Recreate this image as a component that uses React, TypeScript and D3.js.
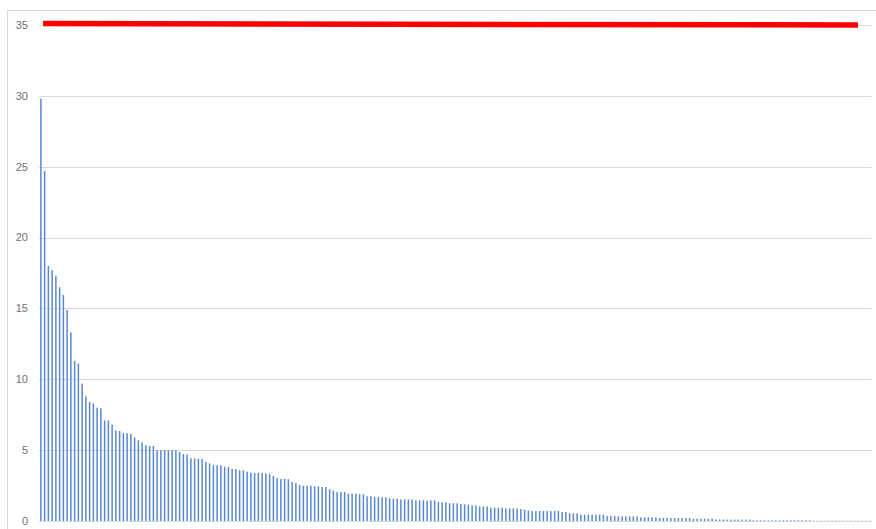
import React from "react";
import * as d3 from "d3";

// Values per item, sorted from largest to smallest
const values: number[] = [
  29.8, 24.7, 18.0, 17.7, 17.3, 16.5, 15.95, 14.9, 13.3, 11.3,
  11.1, 9.7, 8.8, 8.4, 8.3, 8.0, 7.95, 7.1, 7.1, 6.8,
  6.4, 6.35, 6.2, 6.2, 6.15, 5.9, 5.7, 5.55, 5.35, 5.3,
  5.3, 5.0, 5.0, 5.0, 5.0, 5.0, 5.0, 4.87, 4.73, 4.7,
  4.42, 4.42, 4.38, 4.38, 4.16, 4.07, 3.95, 3.93, 3.93, 3.83,
  3.8, 3.67, 3.67, 3.58, 3.58, 3.48, 3.41, 3.4, 3.4, 3.38,
  3.36, 3.33, 3.18, 3.03, 2.96, 2.96, 2.95, 2.75, 2.68, 2.54,
  2.49, 2.49, 2.49, 2.45, 2.45, 2.4, 2.4, 2.24, 2.14, 2.05,
  2.05, 2.05, 1.93, 1.93, 1.93, 1.9, 1.88, 1.74, 1.74, 1.7,
  1.7, 1.67, 1.67, 1.6, 1.58, 1.58, 1.53, 1.53, 1.53, 1.53,
  1.46, 1.46, 1.46, 1.43, 1.45, 1.45, 1.34, 1.32, 1.32, 1.25,
  1.25, 1.25, 1.2, 1.18, 1.16, 1.1, 1.1, 1.03, 1.03, 1.03,
  0.94, 0.94, 0.94, 0.94, 0.89, 0.89, 0.89, 0.89, 0.85, 0.8,
  0.75, 0.7, 0.7, 0.7, 0.7, 0.7, 0.7, 0.7, 0.7, 0.63,
  0.63, 0.54, 0.54, 0.54, 0.45, 0.45, 0.45, 0.45, 0.45, 0.45,
  0.45, 0.35, 0.35, 0.35, 0.32, 0.32, 0.32, 0.32, 0.32, 0.32,
  0.26, 0.26, 0.26, 0.26, 0.26, 0.21, 0.21, 0.21, 0.21, 0.21,
  0.21, 0.21, 0.21, 0.21, 0.16, 0.16, 0.16, 0.16, 0.16, 0.16,
  0.1, 0.1, 0.1, 0.1, 0.1, 0.1, 0.1, 0.1, 0.1, 0.1,
  0.05, 0.05, 0.05, 0.05, 0.05, 0.05, 0.05, 0.05, 0.05, 0.05,
  0.05, 0.05, 0.05, 0.05, 0.05, 0.05, 0.02, 0.02, 0.02, 0.02,
  0.02, 0.02, 0.02, 0.02, 0.02, 0.02, 0.02, 0.02, 0.02, 0.02,
  0.02, 0.02,
];

const categories: string[] = values.map((_, i) => String(i + 1));

const yTicks: number[] = [0, 5, 10, 15, 20, 25, 30, 35];

// Reference line: position in category units and its value
const targetLine: { pos: number; value: number }[] = [
  { pos: 1.1, value: 35.1 },
  { pos: 218.4, value: 35.0 },
];

const WIDTH = 876;
const HEIGHT = 529;
const plot = { left: 39, right: 871.5, top: 25, bottom: 521 };

export default function App() {
  const x = d3
    .scaleBand<string>()
    .domain(categories)
    .range([plot.left, plot.right])
    .paddingInner(0.6)
    .paddingOuter(0.3);

  const xPos = d3
    .scaleLinear()
    .domain([0, categories.length])
    .range([plot.left, plot.right]);

  const y = d3.scaleLinear().domain([0, 35]).range([plot.bottom, plot.top]);

  const line = d3
    .line<{ pos: number; value: number }>()
    .x((d) => xPos(d.pos))
    .y((d) => y(d.value));

  return (
    <svg
      width={WIDTH}
      height={HEIGHT}
      style={{ position: "absolute", left: 0, top: 0, background: "#fff" }}
    >
      <rect x={0} y={0} width={WIDTH} height={HEIGHT} fill="#fff" />
      {/* chart frame */}
      <rect
        x={7.5}
        y={10.5}
        width={WIDTH + 20}
        height={HEIGHT + 20}
        fill="none"
        stroke="#d9d9d9"
        strokeWidth={1}
      />
      {/* horizontal gridlines and value labels */}
      {yTicks.map((t) => (
        <g key={t}>
          <line
            x1={plot.left}
            x2={plot.right}
            y1={Math.round(y(t)) + 0.5}
            y2={Math.round(y(t)) + 0.5}
            stroke="#d9d9d9"
            strokeWidth={1}
          />
          <text
            x={28}
            y={y(t)}
            dy="0.35em"
            textAnchor="end"
            fontFamily="'Liberation Sans', Arial, sans-serif"
            fontSize={11}
            fill="#707070"
          >
            {t}
          </text>
        </g>
      ))}
      {/* bars */}
      {values.map((v, i) => (
        <rect
          key={i}
          x={x(categories[i])}
          y={y(v)}
          width={x.bandwidth()}
          height={y(0) - y(v)}
          fill="#5b87cf"
        />
      ))}
      {/* reference line */}
      <path
        d={line(targetLine) ?? ""}
        fill="none"
        stroke="#ff0000"
        strokeWidth={5.5}
        strokeLinecap="butt"
      />
    </svg>
  );
}
